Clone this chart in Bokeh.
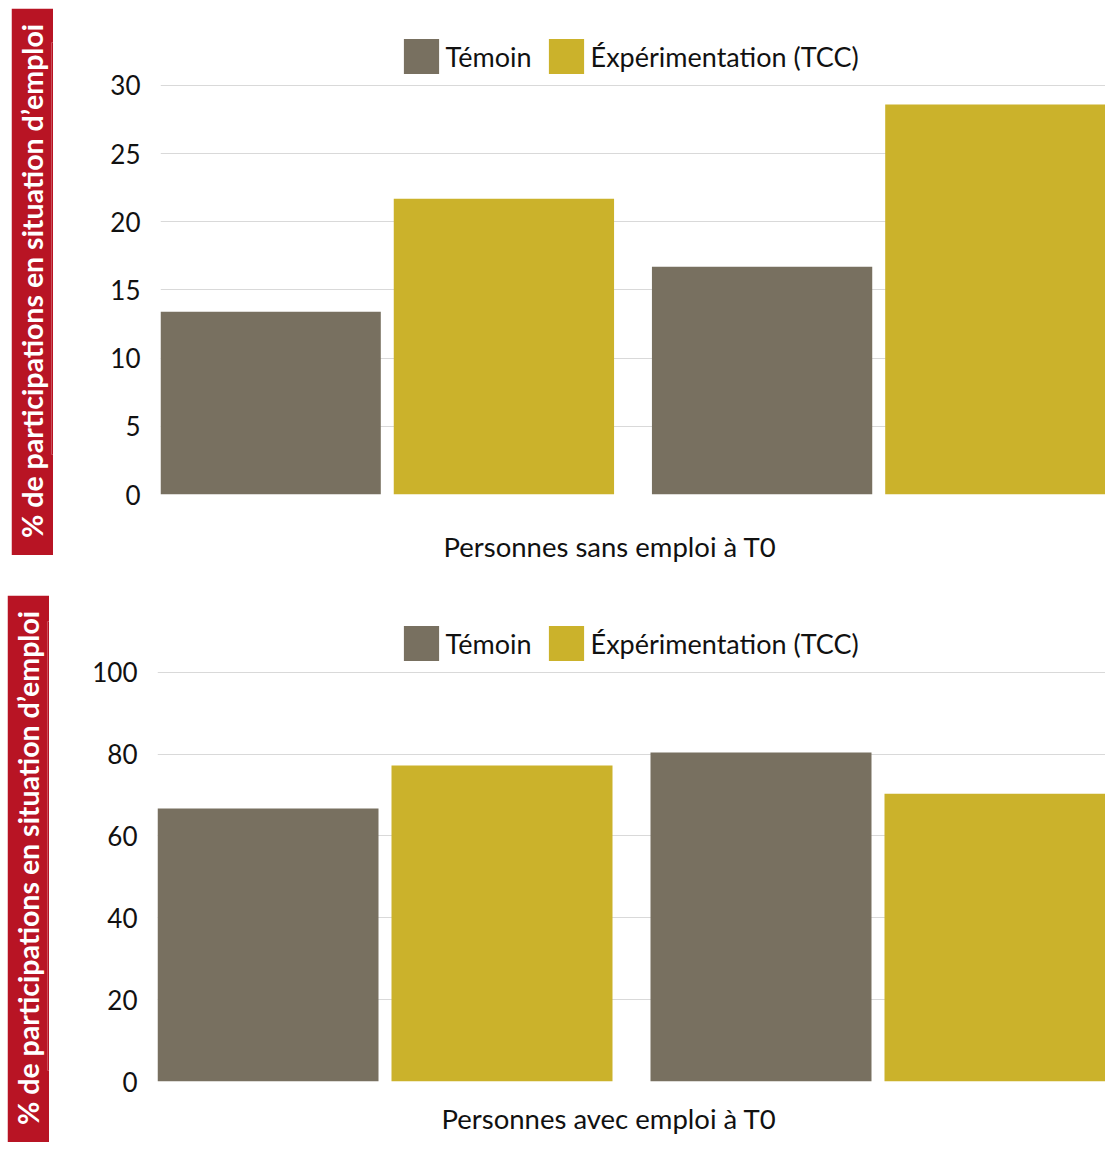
from bokeh.plotting import figure
from bokeh.models import (FactorRange, Range1d, FixedTicker, Legend, LegendItem,
                          Title)
from bokeh.layouts import column, row
from bokeh.embed import file_html
from bokeh.resources import INLINE

groups = ["Groupe 1", "Groupe 2"]
series = ["Témoin", "Éxpérimentation (TCC)"]
sans_temoin = [13.4, 16.7]
sans_exp = [21.7, 28.6]
avec_temoin = [66.7, 80.4]
avec_exp = [77.2, 70.3]
ticks_sans = [0, 5, 10, 15, 20, 25, 30]
ticks_avec = [0, 20, 40, 60, 80, 100]
ylabel = "% de participations en situation d’emploi"
xlabel_sans = "Personnes sans emploi à T0"
xlabel_avec = "Personnes avec emploi à T0"

C_T = "#787060"
C_E = "#CBB22B"
C_RED = "#B81424"
FONT = "Lato"


def red_box(height, margin, offset):
    r = figure(width=42, height=height, x_range=Range1d(0, 1),
               y_range=Range1d(0, 1), min_border=0, toolbar_location=None,
               output_backend="svg", x_axis_location=None,
               y_axis_location=None, background_fill_color=C_RED,
               border_fill_color=C_RED, outline_line_color=None)
    r.grid.visible = False
    r.margin = margin
    t = Title(text=ylabel, align="left", vertical_align="middle",
              offset=offset, standoff=4, text_color="white", text_font=FONT,
              text_font_style="bold", text_font_size="28.5px")
    r.add_layout(t, "left")
    return r


def make(vt, ve, ticks, yend, xlabel, width, height, top, bottom, left,
         xstand, xoff, leg_loc):
    factors = [(g, s) for g in groups for s in series]
    xr = FactorRange(factors=factors, range_padding=0,
                     factor_padding=13 / 221, group_padding=38 / 221)
    p = figure(width=width, height=height, x_range=xr, y_range=Range1d(0, yend),
               output_backend="svg", toolbar_location=None,
               min_border_left=left, min_border_right=0,
               min_border_top=top, min_border_bottom=bottom)
    p.outline_line_color = None
    r1 = p.vbar(x=[(g, series[0]) for g in groups], top=vt, width=1,
                fill_color=C_T, line_color=None)
    r2 = p.vbar(x=[(g, series[1]) for g in groups], top=ve, width=1,
                fill_color=C_E, line_color=None)
    legend = Legend(items=[LegendItem(label=series[0], renderers=[r1]),
                           LegendItem(label=series[1], renderers=[r2])],
                    location=leg_loc, orientation="horizontal",
                    glyph_width=44, glyph_height=44, label_height=44,
                    label_standoff=3, spacing=12, padding=0, margin=0,
                    label_text_font=FONT, label_text_font_size="27px",
                    label_text_color="#111111",
                    background_fill_alpha=0, border_line_color=None)
    p.add_layout(legend)

    tk = FixedTicker(ticks=ticks)
    p.yaxis.ticker = tk
    p.ygrid.ticker = tk
    p.yaxis.axis_line_color = None
    p.yaxis.major_tick_line_color = None
    p.yaxis.minor_tick_line_color = None
    p.yaxis.major_tick_out = 0
    p.yaxis.major_tick_in = 0
    p.yaxis.minor_tick_out = 0
    p.yaxis.major_label_text_font = FONT
    p.yaxis.major_label_text_font_size = "26px"
    p.yaxis.major_label_text_color = "#111111"
    p.yaxis.major_label_standoff = 20
    p.xgrid.grid_line_color = None
    p.ygrid.grid_line_color = "#D9D9D9"
    p.xaxis.visible = False

    xt = Title(text=xlabel, align="left", offset=xoff, standoff=xstand,
               text_font=FONT, text_font_size="27.5px", text_font_style="normal",
               text_color="#111111")
    p.add_layout(xt, "below")
    return p


# top block: rows 0..595
red1 = red_box(547, (8, 0, 0, 11), -83.5)
p1 = make(sans_temoin, sans_exp, ticks_sans, 33.74, xlabel_sans,
          1052, 595, 34, 101, 107, 66, 283, (238.6, 416))
# bottom block: rows 595..1153
red2 = red_box(547, (0, 0, 0, 7), -54.5)
p2 = make(avec_temoin, avec_exp, ticks_avec, 112.4, xlabel_avec,
          1056, 558, 26, 72, 108, 37, 284, (241.6, 416))

layout = column(row(red1, p1), row(red2, p2))
open("out.html", "w").write(file_html(layout, INLINE))
